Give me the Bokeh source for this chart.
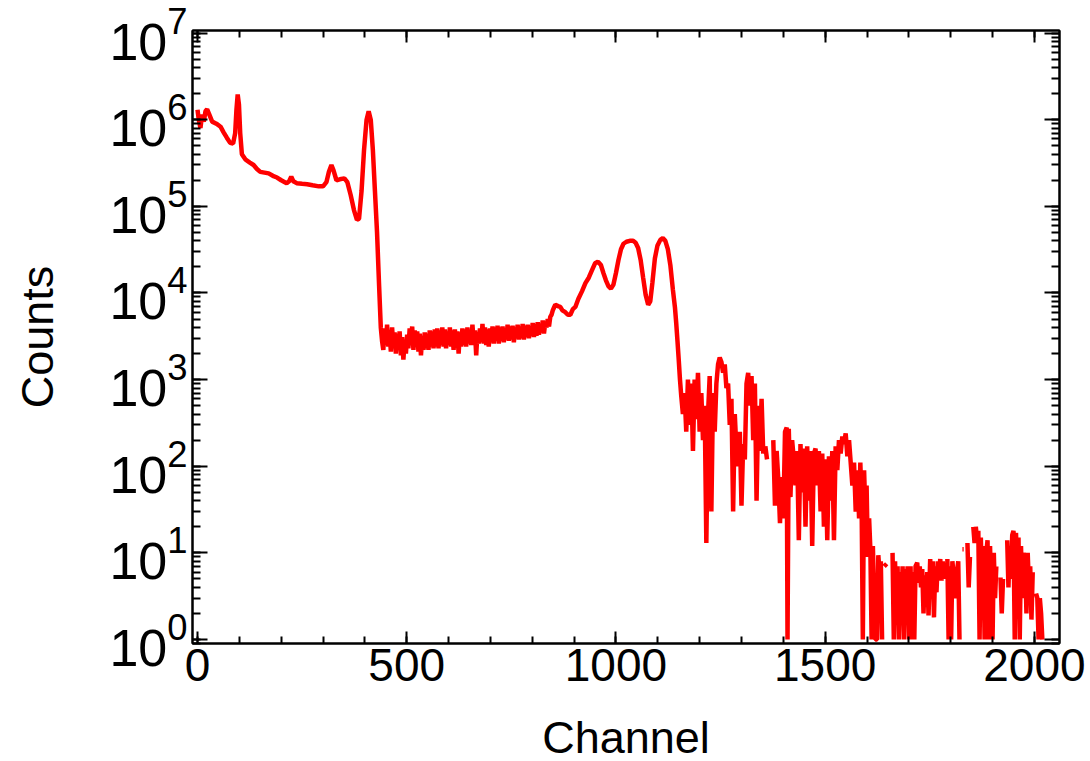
import numpy as np
from bokeh.plotting import figure
from bokeh.models import (LogAxis, LinearAxis, LogTicker, SingleIntervalTicker,
                          Range1d, CustomJSTickFormatter, ColumnDataSource)
from bokeh.embed import file_html
from bokeh.resources import INLINE

nan = float("nan")

# --- low-energy part (channels 0-441)
ch_low = [0, 3, 7, 11, 15, 19, 23, 28, 35, 45,
          55, 62, 70, 78, 85, 90, 93, 96, 99, 102,
          106, 115, 125, 134, 142, 150, 160, 170, 180, 190,
          200, 213, 219, 224, 229, 237, 250, 262, 275, 290,
          300, 308, 314, 320, 325, 332, 340, 351, 358, 366,
          374, 381, 386, 392, 398, 404, 409, 414, 419, 424,
          429, 434, 438, 441]
cnt_low = [1.3e6, 1.0e6, 8.0e5, 1.15e6, 9.5e5, 1.25e6, 1.32e6, 1.15e6, 9.5e5, 9.0e5,
           8.3e5, 7.2e5, 6.2e5, 5.4e5, 5.3e5, 7.0e5, 1.3e6, 1.95e6, 1.5e6, 7.0e5,
           4.0e5, 3.45e5, 3.2e5, 3.0e5, 2.7e5, 2.5e5, 2.45e5, 2.4e5, 2.25e5, 2.15e5,
           2.0e5, 1.85e5, 1.95e5, 2.2e5, 1.95e5, 1.85e5, 1.82e5, 1.8e5, 1.75e5, 1.7e5,
           1.7e5, 1.9e5, 2.5e5, 3.0e5, 2.6e5, 2.0e5, 2.05e5, 2.1e5, 1.9e5, 1.35e5,
           9.0e4, 7.0e4, 7.2e4, 1.5e5, 4.5e5, 1.0e6, 1.25e6, 1.0e6, 4.5e5, 1.5e5,
           5.0e4, 1.2e4, 4.0e3, 2.8e3]

# --- flat noisy continuum (channels 444-855)
ch_flat = [444, 447, 450, 453, 456, 459, 462, 465, 468, 471,
           474, 477, 480, 483, 486, 489, 492, 495, 498, 501,
           504, 507, 510, 513, 516, 519, 522, 525, 528, 531,
           534, 537, 540, 543, 546, 549, 552, 555, 558, 561,
           564, 567, 570, 573, 576, 579, 582, 585, 588, 591,
           594, 597, 600, 603, 606, 609, 612, 615, 618, 621,
           624, 627, 630, 633, 636, 639, 642, 645, 648, 651,
           654, 657, 660, 663, 666, 669, 672, 675, 678, 681,
           684, 687, 690, 693, 696, 699, 702, 705, 708, 711,
           714, 717, 720, 723, 726, 729, 732, 735, 738, 741,
           744, 747, 750, 753, 756, 759, 762, 765, 768, 771,
           774, 777, 780, 783, 786, 789, 792, 795, 798, 801,
           804, 807, 810, 813, 816, 819, 822, 825, 828, 831,
           834, 837, 840, 843, 846, 849, 852, 855]
cnt_flat = [2200, 3900, 2500, 4300, 2400, 3600, 2100, 4000, 2400, 3500,
            2000, 3400, 2200, 3600, 1900, 3100, 1700, 2900, 2000, 3300,
            2300, 3900, 2500, 4100, 2200, 3700, 2400, 3600, 2100, 3400,
            1900, 3200, 2200, 3500, 2300, 3400, 2200, 3700, 2400, 3600,
            2300, 3800, 2400, 3900, 2300, 3700, 2500, 4000, 2400, 3800,
            2300, 3600, 2500, 4000, 2400, 3700, 2200, 3800, 2500, 3600,
            2000, 3500, 2400, 3900, 2500, 3800, 2400, 4000, 2600, 3700,
            2500, 4300, 2700, 3700, 1900, 3500, 2600, 3900, 2700, 4400,
            2600, 4000, 2500, 3800, 2400, 3900, 2700, 4100, 2600, 4000,
            2800, 4200, 2600, 4000, 2800, 4100, 2700, 3900, 2900, 4300,
            2800, 4100, 2900, 4200, 2700, 4000, 3000, 4300, 2900, 4100,
            3000, 4400, 2900, 4200, 3100, 4300, 3000, 4100, 3200, 4500,
            3100, 4400, 3200, 4600, 3300, 4300, 3500, 4800, 3400, 4600,
            4000, 5000, 4100, 5300, 5600, 6300, 6800, 7300]

# --- high-energy peaks (channels 863-1156)
ch_peaks = [863, 867, 872, 879, 885, 891, 897, 903, 910, 919,
            927, 935, 942, 950, 957, 964, 970, 976, 982, 988,
            994, 1000, 1006, 1012, 1018, 1025, 1033, 1041, 1047, 1053,
            1059, 1065, 1071, 1077, 1082, 1087, 1093, 1099, 1106, 1112,
            1118, 1124, 1130, 1136, 1141, 1144, 1147, 1150, 1153, 1156]
cnt_peaks = [7000, 6900, 6300, 6000, 5600, 5600, 6500, 6900, 8500, 1.05e4,
             1.3e4, 1.5e4, 1.8e4, 2.2e4, 2.3e4, 2.1e4, 1.7e4, 1.4e4, 1.2e4, 1.12e4,
             1.25e4, 1.7e4, 2.4e4, 3.2e4, 3.7e4, 3.9e4, 4.0e4, 4.0e4, 3.8e4, 3.3e4,
             2.4e4, 1.5e4, 9.5e3, 7.3e3, 8.0e3, 1.3e4, 2.5e4, 3.5e4, 4.1e4, 4.3e4,
             4.0e4, 3.2e4, 2.1e4, 1.1e4, 6.8e3, 4.5e3, 2.8e3, 1.7e3, 1.0e3, 650]

# --- noisy tail (channels 1160-1581)
ch_tail1 = [1160, 1164, 1168, 1172, 1176, 1180, 1184, 1188, 1192, 1196,
            1200, 1204, 1208, 1212, 1216, 1220, 1224, 1228, 1232, 1236,
            1240, 1244, 1248, 1252, 1256, 1260, 1264, 1268, 1272, 1276,
            1280, 1284, 1288, 1292, 1296, 1300, 1304, 1308, 1312, 1316,
            1320, 1324, 1328, 1332, 1336, 1340, 1344, 1348, 1352, 1355,
            1357, 1361, 1363, 1376, 1380, 1384, 1388, 1392, 1396, 1400,
            1404, 1408, 1410, 1413, 1417, 1421, 1425, 1429, 1433, 1437,
            1441, 1445, 1449, 1453, 1457, 1461, 1465, 1469, 1473, 1477,
            1481, 1485, 1489, 1493, 1497, 1501, 1505, 1509, 1513, 1517,
            1521, 1525, 1529, 1533, 1537, 1541, 1545, 1549, 1553, 1557,
            1561, 1565, 1569, 1573, 1577, 1581]
cnt_tail1 = [400, 700, 250, 1000, 300, 900, 150, 1000, 350, 1200,
             250, 700, 200, 500, 13, 400, 1100, 30, 700, 250,
             900, 1500, 1800, 1600, 1200, 1500, 800, 900, 300, 600,
             30, 400, 150, 100, 250, 35, 180, 120, 900, 1200,
             500, 1100, 200, 900, 40, 500, 150, 600, 140, nan,
             170, 120, nan, 200, 35, 150, 70, 22, 75, 25,
             250, 280, 1, 270, 44, 200, 120, 60, 150, 14,
             180, 50, 160, 20, 170, 40, 150, 12, 140, 160,
             60, 150, 30, 140, 20, 120, 14, 130, 40, 150,
             14, 170, 90, 200, 140, 220, 180, 240, 130, 200,
             110, 60, 110, 30, 90, 25]

# --- very low-count tail (channels 1584-2019)
ch_tail2 = [1584, 1587, 1590, 1593, 1596, 1599, 1602, 1605, 1608, 1611,
            1614, 1617, 1620, 1624, 1627, 1630, 1633, 1636, 1639, 1641,
            1647, 1649, 1661, 1664, 1667, 1670, 1673, 1676, 1679, 1682,
            1685, 1688, 1691, 1694, 1697, 1700, 1704, 1707, 1710, 1713,
            1716, 1720, 1723, 1726, 1729, 1732, 1735, 1738, 1741, 1744,
            1747, 1751, 1754, 1757, 1760, 1763, 1766, 1769, 1772, 1775,
            1778, 1781, 1784, 1787, 1792, 1795, 1798, 1801, 1804, 1808,
            1812, 1815, 1818, 1821, 1824, 1828, 1831, 1833, 1840, 1843,
            1846, 1849, 1854, 1857, 1860, 1863, 1866, 1869, 1872, 1875,
            1878, 1881, 1884, 1888, 1891, 1894, 1897, 1900, 1903, 1906,
            1909, 1912, 1919, 1922, 1925, 1928, 1935, 1938, 1941, 1944,
            1947, 1950, 1953, 1956, 1959, 1962, 1965, 1968, 1971, 1974,
            1978, 1981, 1984, 1987, 1990, 1993, 1996, 1999, 2004, 2007,
            2010, 2013, 2016, 2019]
cnt_tail2 = [110, 40, 1, 90, 30, 60, 9, 25, 11, 1,
             12, 3, 1, 1, 9.4, 6, 8, 1, nan, 7,
             7.5, nan, 10, 1, 8, 1.5, 7, 1, 6, 2,
             7, 1, 6.5, 3, 7, 1, 7, 1, 6, 1,
             7, 7.7, 4.5, 7, 4, 6.5, 2, 5.5, 2.5, 6,
             1.9, 8.5, 3, 8, 1.8, 7, 3.5, 8, 5, 8.5,
             4.8, 8, 5, nan, 8.5, 1, 7, 1, 8, 5,
             3, 6, 8, 1, nan, 11, 11, nan, 13, 4,
             9, nan, 20, 13, 20, 14, 18, 1, 15, 4,
             12, 1, 9, 14, 1, 12, 3, 1, 10, 3,
             7, nan, 5.2, 2, 5, nan, 14, 4, 12, 5,
             16, 18, 1, 17, 6, 15, 1, 12, 3, 10,
             8, 2, 10, 4, 7, 1.7, 6, nan, 3.4, 3,
             1, 3, 2, 1]

segments = [(ch_low, cnt_low), (ch_flat, cnt_flat), (ch_peaks, cnt_peaks),
            (ch_tail1, cnt_tail1), (ch_tail2, cnt_tail2)]
for c, n in segments:
    assert len(c) == len(n), (len(c), len(n))

channel = np.concatenate([np.asarray(c, dtype=float) for c, _ in segments])
counts = np.concatenate([np.asarray(n, dtype=float) for _, n in segments])
src = ColumnDataSource(dict(x=channel, y=counts))

FONT = "Liberation Sans"

p = figure(frame_width=867, frame_height=613,
           y_axis_type="log",
           x_range=Range1d(-12, 2060), y_range=Range1d(0.9, 1.07e7),
           output_backend="svg", toolbar_location=None,
           min_border_left=192, min_border_right=31,
           min_border_top=30, min_border_bottom=118)
p.background_fill_color = "white"
p.border_fill_color = "white"
p.outline_line_color = "black"
p.outline_line_width = 2
p.xgrid.visible = False
p.ygrid.visible = False

p.line("x", "y", source=src, line_color="#ff0000", line_width=4.5)

xt = SingleIntervalTicker(interval=500, num_minor_ticks=5)
yt = LogTicker(desired_num_ticks=8, num_minor_ticks=10, mantissas=[1])


def style(ax, labels=True, size="46px"):
    ax.axis_line_color = "black"
    ax.axis_line_width = 2
    ax.major_tick_line_color = "black"
    ax.major_tick_line_width = 2
    ax.minor_tick_line_color = "black"
    ax.minor_tick_line_width = 2
    ax.major_tick_out = 0
    ax.minor_tick_out = 0
    ax.major_label_text_font = FONT
    ax.major_label_text_font_size = size
    ax.major_label_text_color = "black"
    ax.axis_label_text_font = FONT
    ax.axis_label_text_font_size = "45px"
    ax.axis_label_text_font_style = "normal"
    ax.axis_label_text_color = "black"
    if not labels:
        ax.formatter = CustomJSTickFormatter(code="return ''")


xa = p.xaxis[0]
xa.ticker = xt
style(xa)
xa.major_tick_in = 12
xa.minor_tick_in = 7
xa.axis_label = "Channel"
xa.major_label_standoff = 5
xa.axis_label_standoff = 28

ya = p.yaxis[0]
ya.ticker = yt
style(ya, size="52px")
ya.major_tick_in = 15
ya.minor_tick_in = 8
ya.axis_label = "Counts"
ya.major_label_standoff = 5
ya.axis_label_standoff = 43

top = LinearAxis(ticker=xt)
style(top, labels=False)
top.major_tick_in = 12
top.minor_tick_in = 7
p.add_layout(top, "above")

right = LogAxis(ticker=yt)
style(right, labels=False)
right.major_tick_in = 15
right.minor_tick_in = 8
p.add_layout(right, "right")

open("out.html", "w").write(file_html(p, INLINE))
